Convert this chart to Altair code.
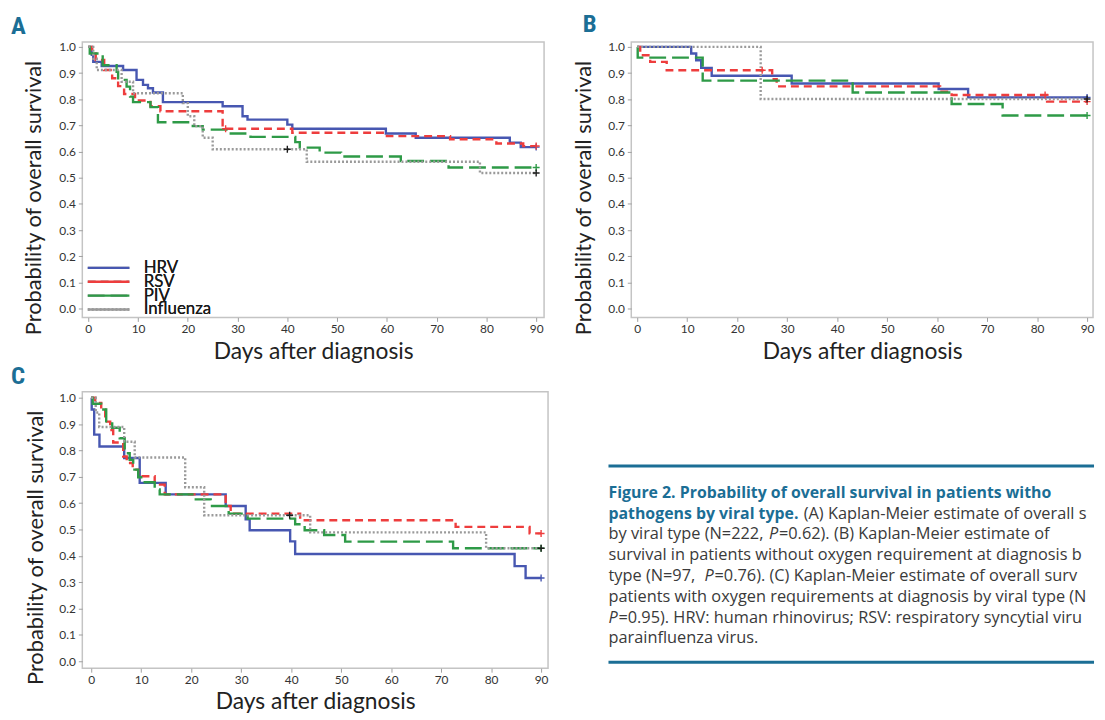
import altair as alt
import pandas as pd

SERIES = ["HRV", "RSV", "PIV", "Influenza"]
LINE_COLORS = ["#4757b1", "#ee3d3d", "#2e9a47", "#9a9a9a"]
CENSOR_COLORS = ["#4757b1", "#ee3d3d", "#2e9a47", "#1c1c1c"]
DASHES = [[1, 0], [8, 5], [17, 6], [2, 2]]
X_TICKS = [0, 10, 20, 30, 40, 50, 60, 70, 80, 90]
Y_TICKS = [0.0, 0.1, 0.2, 0.3, 0.4, 0.5, 0.6, 0.7, 0.8, 0.9, 1.0]
X_TITLE = "Days after diagnosis"
Y_TITLE = "Probability of overall survival"
LETTERS = ["A", "B", "C"]

# ---------------- Panel A ----------------
A_HRV_t = [0, 0.7, 1.0, 2.7, 7.0, 9.7, 11.0, 12.0, 13.0, 15.0, 27.0, 31.0, 32.0, 40.0, 41.0, 59.8, 65.8, 84.7, 86.9, 90]
A_HRV_s = [1.0, 0.97, 0.943, 0.927, 0.912, 0.874, 0.855, 0.842, 0.826, 0.789, 0.773, 0.735, 0.722, 0.703, 0.687, 0.669, 0.653, 0.634, 0.617, 0.617]
A_RSV_t = [0, 0.8, 1.5, 3.2, 4.8, 6.0, 7.2, 9.4, 12.5, 14.5, 27.0, 41.0, 60.0, 72.7, 82.0, 87.4, 90]
A_RSV_s = [1.0, 0.98, 0.95, 0.912, 0.88, 0.85, 0.82, 0.795, 0.773, 0.754, 0.687, 0.672, 0.659, 0.647, 0.631, 0.621, 0.621]
A_PIV_t = [0, 0.3, 2.9, 5.7, 6.0, 7.7, 8.4, 9.0, 12.5, 14.0, 21.0, 23.0, 28.3, 32.6, 41.6, 42.5, 46.5, 50.8, 62.8, 72.4, 90]
A_PIV_s = [1.0, 0.975, 0.93, 0.905, 0.874, 0.848, 0.81, 0.789, 0.77, 0.712, 0.697, 0.684, 0.669, 0.656, 0.636, 0.615, 0.596, 0.581, 0.564, 0.539, 0.539]
A_FLU_t = [0, 1.0, 1.7, 6.7, 9.0, 19.0, 20.0, 21.3, 23.0, 25.0, 43.9, 78.7, 90]
A_FLU_s = [1.0, 0.955, 0.912, 0.867, 0.823, 0.785, 0.735, 0.697, 0.653, 0.609, 0.561, 0.518, 0.518]
A_CENS_series = ["HRV", "RSV", "RSV", "PIV", "Influenza", "Influenza"]
A_CENS_day = [90, 27.6, 90, 90, 40, 90]
A_CENS_surv = [0.617, 0.687, 0.621, 0.539, 0.609, 0.518]

# ---------------- Panel B ----------------
B_HRV_t = [0, 10.8, 11.8, 12.8, 14.9, 30.9, 60.3, 66.2, 90]
B_HRV_s = [1.0, 0.975, 0.949, 0.92, 0.89, 0.86, 0.839, 0.807, 0.807]
B_RSV_t = [0, 0.6, 2.6, 5.9, 27.0, 27.9, 60.6, 62.9, 82.0, 90]
B_RSV_s = [1.0, 0.968, 0.943, 0.911, 0.877, 0.849, 0.829, 0.816, 0.791, 0.791]
B_PIV_t = [0, 0.1, 13.1, 43.1, 62.9, 73.1, 90]
B_PIV_s = [1.0, 0.959, 0.871, 0.826, 0.782, 0.738, 0.738]
B_FLU_t = [0, 24.7, 90]
B_FLU_s = [1.0, 0.801, 0.801]
B_CENS_series = ["HRV", "RSV", "RSV", "RSV", "PIV", "Influenza"]
B_CENS_day = [90, 25.0, 81.6, 90, 90, 90]
B_CENS_surv = [0.807, 0.911, 0.816, 0.791, 0.738, 0.801]

# ---------------- Panel C ----------------
C_HRV_t = [0, 0.1, 0.6, 1.65, 6.6, 9.7, 14.9, 26.9, 30.9, 31.7, 39.8, 40.8, 84.7, 86.9, 90]
C_HRV_s = [1.0, 0.955, 0.86, 0.815, 0.771, 0.677, 0.633, 0.589, 0.539, 0.497, 0.455, 0.407, 0.361, 0.316, 0.316]
C_RSV_t = [0, 0.8, 2.0, 2.8, 3.8, 4.4, 6.4, 7.1, 8.3, 9.4, 12.7, 14.7, 26.9, 27.9, 41.8, 72.9, 87.7, 90]
C_RSV_s = [1.0, 0.98, 0.955, 0.909, 0.877, 0.83, 0.777, 0.752, 0.727, 0.702, 0.67, 0.633, 0.589, 0.56, 0.535, 0.51, 0.485, 0.485]
C_PIV_t = [0, 0.3, 2.0, 3.0, 4.2, 5.7, 6.7, 7.7, 8.4, 9.4, 10.7, 12.7, 13.7, 20.6, 23.9, 27.5, 31.3, 40.8, 42.7, 46.6, 50.8, 72.4, 90]
C_PIV_s = [1.0, 0.977, 0.955, 0.91, 0.886, 0.846, 0.789, 0.764, 0.727, 0.698, 0.679, 0.652, 0.633, 0.614, 0.589, 0.56, 0.541, 0.52, 0.497, 0.479, 0.454, 0.429, 0.429]
C_FLU_t = [0, 0.9, 1.6, 6.6, 8.7, 18.8, 22.6, 43.8, 79.0, 90]
C_FLU_s = [1.0, 0.944, 0.889, 0.833, 0.773, 0.66, 0.554, 0.489, 0.429, 0.429]
C_CENS_series = ["HRV", "RSV", "PIV", "Influenza", "Influenza"]
C_CENS_day = [90, 90, 90, 39.7, 90]
C_CENS_surv = [0.316, 0.485, 0.429, 0.554, 0.429]

# ---------------- Caption ----------------
CAPTION_TEXT = [
    ["Figure 2. Probability of overall survival in patients witho"],
    ["pathogens by viral type.", "(A) Kaplan-Meier estimate of overall s"],
    ["by viral type (N=222, ", "P", "=0.62). (B) Kaplan-Meier estimate of"],
    ["survival in patients without oxygen requirement at diagnosis b"],
    ["type (N=97, ", "P", "=0.76). (C) Kaplan-Meier estimate of overall surv"],
    ["patients with oxygen requirements at diagnosis by viral type (N"],
    ["P", "=0.95). HRV: human rhinovirus; RSV: respiratory syncytial viru"],
    ["parainfluenza virus."],
]

TEAL = "#1b6e95"
TEXT_GRAY = "#3a3a3a"
AX_FONT = "Lato"
LETTER_FONT = "Liberation Sans Narrow, Roboto Condensed, DejaVu Sans Condensed, sans-serif"
CAP_FONT = "Open Sans"
ONE = pd.DataFrame({"k": [0]})


def curves_df(ts, ss):
    rows = []
    for name, t, s in zip(SERIES, ts, ss):
        for d, v in zip(t, s):
            rows.append({"series": name, "day": d, "surv": v})
    return pd.DataFrame(rows)


def censor_df(names, days, survs):
    return pd.DataFrame({"series": names, "day": days, "surv": survs})


def make_panel(curves, censors, letter, letter_x, letter_y, x_dom, y_dom,
               w, h, ytitle_x, ytitle_y, show_legend):
    xenc = alt.X("day:Q", scale=alt.Scale(domain=x_dom, nice=False, zero=False),
                 axis=alt.Axis(values=X_TICKS, title=X_TITLE, grid=False, domain=False,
                               tickSize=4, tickColor="#a0a0a0", labelPadding=2,
                               labelFont=AX_FONT, labelFontSize=12, labelColor="#333333",
                               titleFont=AX_FONT, titleFontSize=23, titleFontWeight="normal",
                               titleColor="#222222", titleBaseline="middle", titleY=34))
    yenc = alt.Y("surv:Q", scale=alt.Scale(domain=y_dom, nice=False, zero=False),
                 axis=alt.Axis(values=Y_TICKS, format=".1f", title=Y_TITLE, grid=False,
                               domain=False, tickSize=4, tickColor="#a0a0a0", labelPadding=3,
                               labelFont=AX_FONT, labelFontSize=12, labelColor="#333333",
                               titleFont=AX_FONT, titleFontSize=22, titleFontWeight="normal",
                               titleColor="#222222", titleAngle=270, titleAlign="center",
                               titleBaseline="middle", titleX=ytitle_x, titleY=ytitle_y))
    if show_legend:
        leg = alt.Legend(orient="none", legendX=4, legendY=222, title=None,
                         symbolType="stroke", symbolSize=1764, symbolStrokeWidth=2.5,
                         labelFont=AX_FONT, labelFontSize=17, labelFontWeight="normal",
                         labelColor="#1a1a1a", labelOffset=13, clipHeight=12,
                         rowPadding=-4, padding=0)
    else:
        leg = None
    color = alt.Color("series:N", scale=alt.Scale(domain=SERIES, range=LINE_COLORS),
                      sort=SERIES, legend=leg)
    dash = alt.StrokeDash("series:N", scale=alt.Scale(domain=SERIES, range=DASHES),
                          sort=SERIES, legend=leg)
    lines = alt.Chart(curves).mark_line(interpolate="step-after", strokeWidth=2.4).encode(
        x=xenc, y=yenc, color=color, strokeDash=dash)
    marks = alt.Chart(censors).mark_point(shape="M-1,0L1,0M0,-1L0,1", size=49, filled=False,
                                          strokeWidth=1.4, opacity=1).encode(
        x=xenc, y=yenc,
        color=alt.Color("series:N", scale=alt.Scale(domain=SERIES, range=CENSOR_COLORS),
                        legend=None))
    tag = alt.Chart(ONE).mark_text(text=letter, align="left", baseline="alphabetic",
                                   font=LETTER_FONT, fontSize=25, fontWeight="bold",
                                   color=TEAL).encode(x=alt.value(letter_x), y=alt.value(letter_y))
    return alt.layer(lines, marks, tag).resolve_scale(color="independent").properties(
        width=w, height=h)


panel_a = make_panel(curves_df([A_HRV_t, A_RSV_t, A_PIV_t, A_FLU_t], [A_HRV_s, A_RSV_s, A_PIV_s, A_FLU_s]),
                     censor_df(A_CENS_series, A_CENS_day, A_CENS_surv),
                     LETTERS[0], -72, -8, [-1.195, 91.59], [-0.034, 1.019], 466, 278, -49, 157, True)
panel_b = make_panel(curves_df([B_HRV_t, B_RSV_t, B_PIV_t, B_FLU_t], [B_HRV_s, B_RSV_s, B_PIV_s, B_FLU_s]),
                     censor_df(B_CENS_series, B_CENS_day, B_CENS_surv),
                     LETTERS[1], -49, -10, [-1.187, 91.19], [-0.034, 1.019], 466, 278, -48, 157, False)
panel_c = make_panel(curves_df([C_HRV_t, C_RSV_t, C_PIV_t, C_FLU_t], [C_HRV_s, C_RSV_s, C_PIV_s, C_FLU_s]),
                     censor_df(C_CENS_series, C_CENS_day, C_CENS_surv),
                     LETTERS[2], -72, -8, [-1.78, 91.39], [-0.0263, 1.0226], 470, 279, -47, 157, False)

# caption panel: its view starts at the second grid column; content shifted left
CAP_X0 = -23
CAP_W = 467
cap_layers = [
    alt.Chart(ONE).mark_rule(color=TEAL, strokeWidth=3).encode(
        x=alt.value(CAP_X0), x2=alt.value(CAP_W), y=alt.value(75)),
    alt.Chart(ONE).mark_rule(color=TEAL, strokeWidth=3).encode(
        x=alt.value(CAP_X0), x2=alt.value(CAP_W), y=alt.value(273)),
]
SEG_X = [[0], [0, 197], [0, 162, 172], [0], [0, 97, 107], [0], [0, 10], [0]]
SEG_STYLE = [["b"], ["b", "r"], ["r", "i", "r"], ["r"], ["r", "i", "r"], ["r"], ["i", "r"], ["r"]]
for li, segs in enumerate(CAPTION_TEXT):
    for si, seg in enumerate(segs):
        style = SEG_STYLE[li][si]
        x0 = CAP_X0 + SEG_X[li][si]
        kw = dict(align="left", baseline="middle", font=CAP_FONT, limit=CAP_W - x0, ellipsis="")
        if style == "b":
            kw.update(fontSize=16, fontWeight="bold", color=TEAL)
        elif style == "i":
            kw.update(fontSize=16.5, fontStyle="italic", color=TEXT_GRAY)
        else:
            kw.update(fontSize=16.5, color=TEXT_GRAY)
        cap_layers.append(
            alt.Chart(pd.DataFrame({"t": [seg]})).mark_text(**kw).encode(
                x=alt.value(x0), y=alt.value(102 + 21 * li), text="t:N"))

caption = alt.layer(*cap_layers).properties(
    width=CAP_W, height=279, view=alt.ViewBackground(stroke="transparent"))

chart = alt.concat(panel_a, panel_b, panel_c, caption, columns=2, bounds="flush",
                   spacing={"row": 75, "column": 84}).resolve_scale(
    color="independent", strokeDash="independent").properties(
    padding={"left": 2, "top": 0, "right": 0, "bottom": 0}, background="white"
).configure_view(stroke="#c4c4c4", strokeWidth=1.5)

chart.save("out.html", embed_options={"renderer": "svg", "actions": False})
